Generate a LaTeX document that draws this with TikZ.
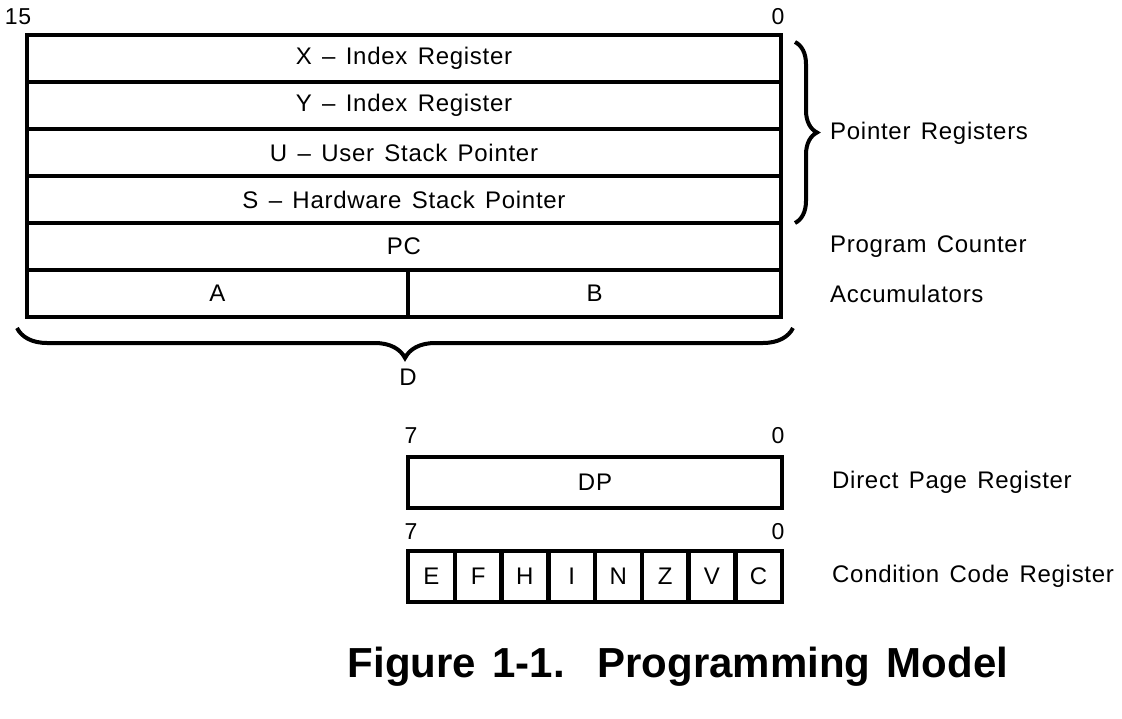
\documentclass[tikz,border=0pt]{standalone}
\usepackage{fontspec}
\setmainfont{Liberation Sans}[LetterSpace=3,WordSpace=1.4]
\usetikzlibrary{positioning, calc, decorations.pathreplacing}

\tikzset{
  reg/.style={draw, line width=4.5pt, outer sep=0pt, inner sep=0pt,
    minimum width=754pt, minimum height=47pt, font=\fontsize{24}{28}\selectfont},
  half/.style={reg, minimum width=#1},
  byte/.style={reg, minimum width=374pt, minimum height=51pt},
  flag/.style={reg, minimum width=46.75pt, minimum height=51pt},
  bitno/.style={inner sep=0pt, font=\fontsize{23}{26}\selectfont},
  lbl/.style={inner sep=0pt, anchor=west, font=\fontsize{24}{28}\selectfont},
  brc/.style={decorate, line width=4pt, decoration={brace, amplitude=#1}},
}

\begin{document}
\begin{tikzpicture}[x=1pt, y=-1pt]
\useasboundingbox (0,0) rectangle (1122,718);

% 16 bit registers
\node[reg] (X) at (404,58.5) {X -- Index Register};
\node[reg, below=0pt of X] (Y) {Y -- Index Register};
\node[reg, below=0pt of Y] (U) {U -- User Stack Pointer};
\node[reg, below=0pt of U] (S) {S -- Hardware Stack Pointer};
\node[reg, below=0pt of S] (PC) {PC};
\node[half=381pt, anchor=north west] (A) at (PC.south west) {A};
\node[half=373pt, anchor=north east] (B) at (PC.south east) {B};

\node[bitno, above=10pt of X.north west, xshift=-9pt] (b15) {15};
\node[bitno, above=10pt of X.north east, xshift=-3pt] (b0) {0};

% braces
\draw[brc=22pt] ($(X.north east)+(14,7)$) -- ($(S.south east)+(14,0)$);
\node[lbl] (ptr) at ($(S.south east)!0.5!(X.north east)+(49,4)$) {Pointer Registers};
\draw[brc=30pt] ($(B.south east)+(12,11)$) -- ($(A.south west)+(-10,11)$);
\node[lbl, anchor=north] (D) at ($(A.south east)+(0,52)$) {D};

\node[lbl, right=49pt of PC.east] (pcl) {Program Counter};
\node[lbl, right=49pt of B.east] (accl) {Accumulators};

% 8 bit registers
\node[byte, below=140pt of B.south west, anchor=north west] (DP) {DP};
\node[bitno, above=13pt of DP.north west, xshift=3pt] (d7) {7};
\node[bitno, above=13pt of DP.north east, xshift=-4pt] (d0) {0};
\node[lbl, right=50pt of DP.east] (dpl) {Direct Page Register};

\foreach \f [count=\i] in {E,F,H,I,N,Z,V,C}
  \node[flag, anchor=north west] (cc\i) at ($(DP.south west)+({(\i-1)*46.75},43)$) {\f};
\node[bitno, above=11pt of cc1.north west, xshift=3pt] (c7) {7};
\node[bitno, above=11pt of cc8.north east, xshift=-4pt] (c0) {0};
\node[lbl, right=50pt of cc8.east] (ccl) {Condition Code Register};

\node[font=\fontsize{42}{48}\selectfont\bfseries\addfontfeature{LetterSpace=0}, anchor=base] (title) at (678,677) {Figure 1-1.\ \ Programming Model};
\end{tikzpicture}
\end{document}
